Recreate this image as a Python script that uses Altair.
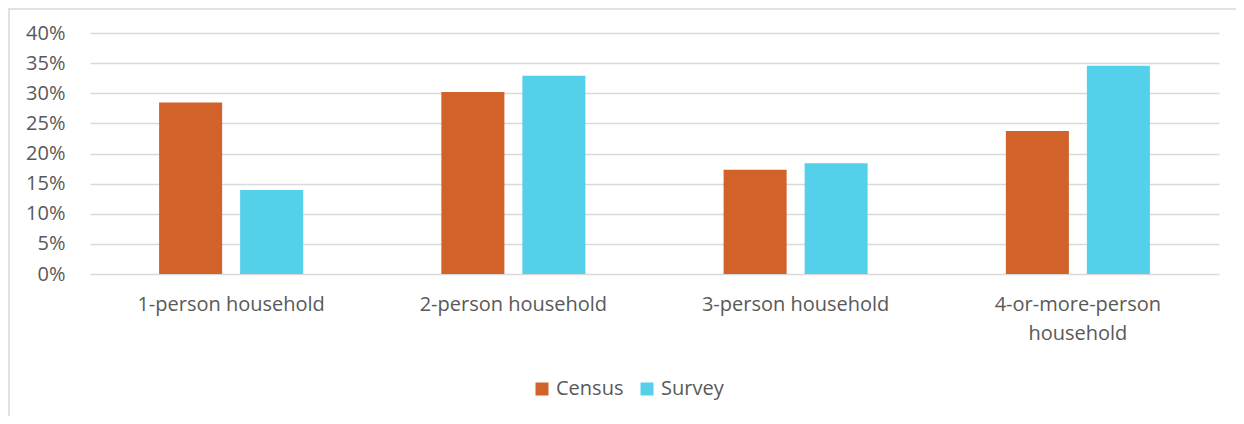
import altair as alt
import pandas as pd

categories = ["1-person household", "2-person household", "3-person household", "4-or-more-person household"]
series = ["Census", "Survey"]
census = [0.2845, 0.302, 0.173, 0.2375]
survey = [0.1395, 0.329, 0.184, 0.3455]
colors = ["#D0622A", "#55D0EB"]
y_ticks = [0, 0.05, 0.10, 0.15, 0.20, 0.25, 0.30, 0.35, 0.40]

rows = []
for c, a, b in zip(categories, census, survey):
    rows.append({"category": c, "series": series[0], "value": a})
    rows.append({"category": c, "series": series[1], "value": b})
df = pd.DataFrame(rows)

FONT = "Open Sans"
TXT = "#595959"
GRID = "#D9D9D9"
FS = 20

bars = alt.Chart(df).mark_bar().encode(
    x=alt.X(
        "category:N", sort=categories,
        scale=alt.Scale(paddingInner=0, paddingOuter=0),
        axis=alt.Axis(
            title=None, labelAngle=0, ticks=False, domain=False, grid=False,
            labelFontSize=FS, labelColor=TXT, labelFont=FONT, labelPadding=20,
            labelLineHeight=29, labelLimit=400,
            labelExpr="datum.value == '4-or-more-person household' ? ['4-or-more-person', 'household'] : datum.value",
        ),
    ),
    xOffset=alt.XOffset("series:N", sort=series,
                        scale=alt.Scale(paddingInner=0.222, paddingOuter=0.853)),
    y=alt.Y(
        "value:Q", scale=alt.Scale(domain=[0, 0.4], nice=False),
        axis=alt.Axis(
            title=None, format=".0%", values=y_ticks, ticks=False, domain=False,
            grid=True, gridColor=GRID, gridWidth=1.4,
            labelFontSize=FS, labelColor=TXT, labelFont=FONT, labelPadding=25,
        ),
    ),
    color=alt.Color(
        "series:N",
        scale=alt.Scale(domain=series, range=colors),
        legend=alt.Legend(
            title=None, orient="none", direction="horizontal",
            legendX=442, legendY=346,
            symbolType="square", symbolSize=169, symbolStrokeWidth=0,
            labelFontSize=FS, labelColor=TXT, labelFont=FONT,
            labelOffset=4, columnPadding=13,
        ),
    ),
)

frame_df = pd.DataFrame({"k": [0]})
left_border = alt.Chart(frame_df).mark_rule(color=GRID, strokeWidth=1.5).encode(
    x=alt.value(-81), y=alt.value(-24), y2=alt.value(400)
)
top_border = alt.Chart(frame_df).mark_rule(color=GRID, strokeWidth=1.5).encode(
    y=alt.value(-24), x=alt.value(-82), x2=alt.value(1200)
)

chart = alt.layer(left_border, top_border, bars).properties(
    width=1129, height=241,
    autosize=alt.AutoSizeParams(type="none"),
    padding={"left": 82, "top": 25, "right": 17, "bottom": 142},
).configure_view(strokeWidth=0)

chart.save("out.html", embed_options={"renderer": "svg", "actions": False})
